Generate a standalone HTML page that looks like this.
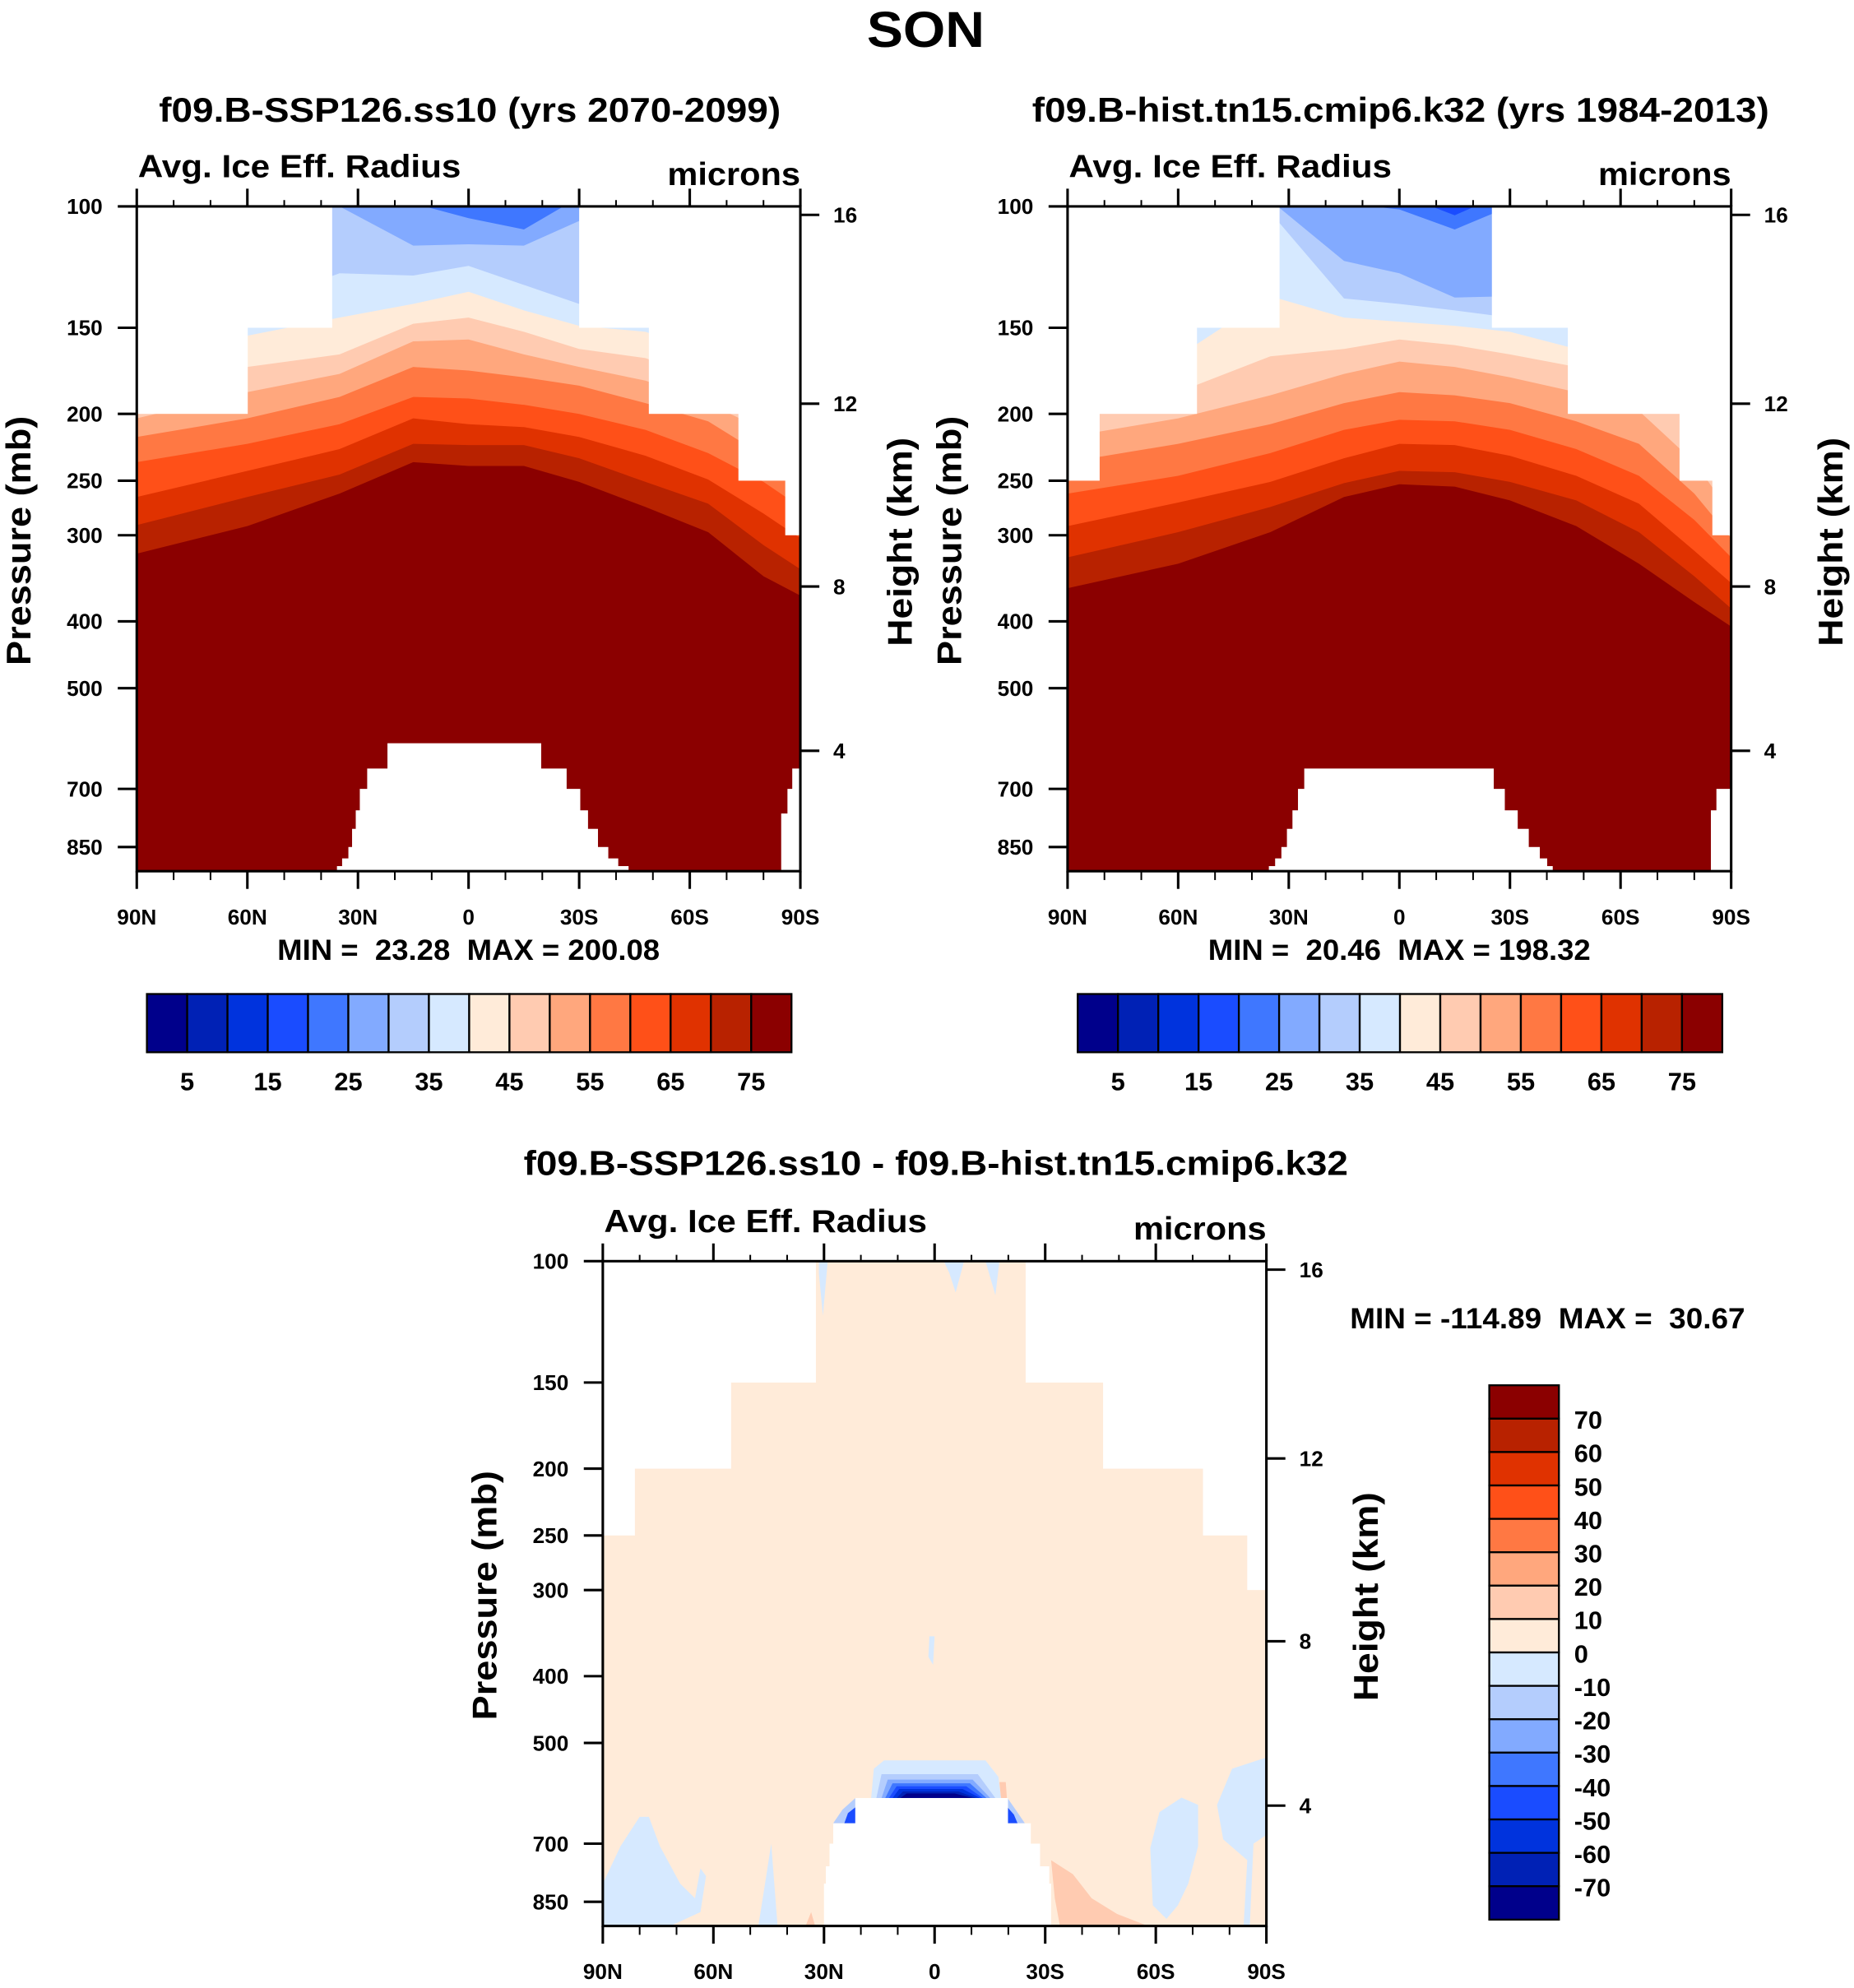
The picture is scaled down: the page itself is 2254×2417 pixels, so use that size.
<!DOCTYPE html>
<html><head><meta charset="utf-8"><style>
html,body{margin:0;padding:0;background:#fff;}
svg{display:block;}
text{font-family:"Liberation Sans",Arial,sans-serif;font-weight:bold;fill:#000;white-space:pre;}
</style></head><body>
<svg id="fig" xmlns="http://www.w3.org/2000/svg" width="2254" height="2417" viewBox="0 0 1464 1570" preserveAspectRatio="none">
<rect x="0" y="0" width="1464" height="1570" fill="#fff"/>
</svg>
<script>
const NS='http://www.w3.org/2000/svg';
const palette=['#00008b','#0021b5','#0033dd','#1a4cff','#3f77ff','#82aaff','#b4cdfd','#d6e9ff','#ffebd9','#ffcbb1','#ffa77d','#ff7843','#ff5018','#e03200','#b82200','#8b0000'];
const pressureTicks=[100,150,200,250,300,400,500,700,850];
const heightTicks=[16,12,8,4];
const latTicks=[90,60,30,0,-30,-60,-90];
const latTickLabels=['90N','60N','30N','0','30S','60S','90S'];
const latNodes=[90,60,35,15,0,-15,-30,-48,-65,-80,-90];
const absLevels=[15,20,25,30,35,40,45,50,55,60,65,70,75];
const absCbLevels=[5,10,15,20,25,30,35,40,45,50,55,60,65,70,75];
const absCbLabels=['5','','15','','25','','35','','45','','55','','65','','75'];
const diffCbLabels=['70','60','50','40','30','20','10','0','-10','-20','-30','-40','-50','-60','-70'];
// panel 1 contour-crossing pressures (mb) per level at latNodes
const p1c15=[95,95,95,95,95,95,95,95,95,95,95];
const p1c20=[96,96,96,96,96,96,96,96,96,96,96];
const p1c25=[97,97,97,99,104,108,97,98,98,98,98];
const p1c30=[105,105,100,114,113.5,114,105,110,110,110,110];
const p1c35=[130,140,125,126,122,130,138.5,145,151,164,179];
const p1c40=[160,154,145,138.5,133,141.5,149,152,164,179,194];
const p1c45=[180,171,164,148,145,152,161,166,179,194,216];
const p1c50=[203,186,175,157,156,164,171,179,193,211,235];
const p1c55=[216,203,189,171,173,177,182,193,205,230,251];
const p1c60=[235,221,207,189,190,194,200,211,228,251,273];
const p1c65=[264,242,225,203,207,209,216,230,249,279,303];
const p1c70=[290,264,245,221,222,222,232,251,270,310,336];
const p1c75=[319,291,261,235,238,238,251,273,297,344,367];
// panel 2
const p2c15=[90,90,90,90,90,90,90,90,90,90,90];
const p2c20=[95,95,95,95,96,103,95,95,95,95,95];
const p2c25=[97,97,97,99,101,108,100,100,100,100,100];
const p2c30=[100,100,98,120,125,135.6,135,140,140,140,140];
const p2c35=[130,140,102,136,138.5,141.5,145,150,155,160,180];
const p2c40=[180,165,135,145,147,149,152,161,171,186,221];
const p2c45=[200,186,165,161,156,159,164,171,182,207,251];
const p2c50=[216,203,188,175,168,171,177,186,198,235,279];
const p2c55=[235,221,207,193,186,188,193,205,221,261,303];
const p2c60=[261,246,228,211,204,205,211,225,246,285,323];
const p2c65=[291,269,251,232,221,222,230,246,270,316,352];
const p2c70=[323,297,273,252,242,243,251,267,297,344,383];
const p2c75=[358,330,297,264,253,255,267,291,330,375,407];
const panel1Levels=[p1c15,p1c20,p1c25,p1c30,p1c35,p1c40,p1c45,p1c50,p1c55,p1c60,p1c65,p1c70,p1c75];
const panel2Levels=[p2c15,p2c20,p2c25,p2c30,p2c35,p2c40,p2c45,p2c50,p2c55,p2c60,p2c65,p2c70,p2c75];
// data-top steps [latStart, pressureTop]
const top1=[[90,200],[60,150],[37.1,100],[-30,150],[-48.9,200],[-73.2,250],[-85.9,300]];
const top2=[[90,250],[81.4,200],[55,150],[32.6,100],[-25.1,150],[-45.7,200],[-76,250],[-84.9,300]];
const top3=[[90,250],[81.4,200],[55.3,150],[32.3,100],[-24.7,150],[-45.7,200],[-72.8,250],[-84.8,300]];
// ground steps [latN, latS, pressureTop]
const ground1=[[35.7,34.3,906],[34.3,32.6,883],[32.6,31.6,850],[31.6,30.6,800],[30.6,29.5,752],[29.5,27.5,700],[27.5,22,654],[22,-19.6,601],[-19.6,-26.5,654],[-26.5,-30.2,700],[-30.2,-32.3,752],[-32.3,-35,800],[-35,-37.8,850],[-37.8,-40.5,883],[-40.5,-43.3,906],[-84.8,-86.5,760],[-86.5,-87.8,700],[-87.8,-90,654]];
const ground2=[[35.4,33.7,906],[33.7,32,883],[32,30.5,850],[30.5,29,800],[29,27.5,752],[27.5,25.8,700],[25.8,-25.5,654],[-25.5,-28.5,700],[-28.5,-32,752],[-32,-35,800],[-35,-38,850],[-38,-40,883],[-40,-41.5,906],[-84.5,-86,752],[-86,-90,700]];
const ground3=[[30,29.5,800],[29.5,28.5,755],[28.5,27.5,700],[27.5,21.5,654],[21.5,-19.8,601],[-19.8,-26,654],[-26,-28.5,700],[-28.5,-31,755],[-31,-31.5,800]];
// difference field patches [colorIndex, [[lat,p],...]]
const diffPatches=[
 [7,[[90,922],[90,800],[85.2,706],[80,640],[77.5,640],[74.5,706],[69,800],[65,840],[63.5,760],[62,780],[63.5,880],[71.4,920],[81.7,922]]],
 [7,[[47.8,922],[46,800],[44.3,700],[42.6,922]]],
 [7,[[-59.2,860],[-58.5,710],[-61,630],[-67,600],[-71.5,615],[-71.5,706],[-68.8,800],[-66,860],[-62.9,900]]],
 [7,[[-76.6,615],[-80.7,545],[-87.6,530],[-90,525],[-90,680],[-86.5,700],[-85.5,922],[-83.8,922],[-84.8,740],[-78.3,690]]],
 [7,[[31.4,100],[29,100],[30.3,120],[31.4,104]]],
 [7,[[-2.5,100],[-8,100],[-5.7,111],[-4,104]]],
 [7,[[-13.8,100],[-17.6,100],[-16.5,112]]],
 [7,[[1.4,350],[0,350],[0.4,385],[1.7,375]]],
 [9,[[-31.6,740],[-37.5,775],[-42.6,840],[-49.5,885],[-58,922],[-34,922],[-32.6,840]]],
 [9,[[-17.6,570],[-19.3,570],[-19.6,601],[-18,601]]],
 [9,[[35,922],[33.5,880],[32.4,922]]],
 [7,[[17.2,601],[16.5,545],[13.7,530],[-13.8,530],[-17.3,560],[-18,601]]],
 [6,[[15.8,601],[14.4,555],[-11.7,555],[-16.5,601]]],
 [5,[[14.4,601],[12.7,565],[-10.3,565],[-15.1,601]]],
 [4,[[13.4,601],[11.4,572],[-9.6,572],[-14.1,601]]],
 [3,[[12.4,601],[10.3,578],[-8.6,578],[-13.1,601]]],
 [2,[[11.4,601],[9.6,583],[-7.6,583],[-12.4,601]]],
 [1,[[10.3,601],[8.6,588],[-6.5,588],[-11.4,601]]],
 [0,[[9.3,601],[7.6,592],[-5.5,592],[-10.3,601]]],
 [6,[[27.5,654],[25,625],[21.5,601],[21.5,654]]],
 [3,[[24.5,654],[23.5,632],[21.5,620],[21.5,654]]],
 [6,[[-19.8,601],[-22,625],[-24.5,654],[-19.8,654]]],
 [3,[[-19.8,620],[-21.5,635],[-22.5,654],[-19.8,654]]]
];
const K=236.4;
const svg=document.getElementById('fig');
function el(tag,attrs,parent){const e=document.createElementNS(NS,tag);for(const k in attrs)e.setAttribute(k,attrs[k]);(parent||svg).appendChild(e);return e;}
function txt(s,x,y,size,anchor,parent,len){const t=el('text',{x:x,y:y,'font-size':size,'text-anchor':anchor||'start'},parent);if(len){t.setAttribute('textLength',len);t.setAttribute('lengthAdjust','spacingAndGlyphs');}t.textContent=s;return t;}
function zToP(z){return z<=11?1013.25*Math.pow(1-0.0065*z*1000/288.15,5.2559):226.32*Math.exp(-(z-11)/6.3416);}

function makeAxes(x0,y0){
 const W=524,H=525;
 return {x0,y0,W,H,x:lat=>x0+(90-lat)/180*W,y:p=>y0+K*Math.log(p/100)};
}
function drawPanel(ax,name,levels,levelVals,topSteps,groundSteps,patches,bg){
 const g=el('g',{});
 
 
 const cid='clip-'+name;
 const cp=el('clipPath',{id:cid},g);
 el('rect',{x:ax.x0,y:ax.y0,width:ax.W,height:ax.H},cp);
 const f=el('g',{'clip-path':'url(#'+cid+')'},g);
 const base=el('rect',{x:ax.x0,y:ax.y0,width:ax.W,height:ax.H,fill:bg},f);
 
 
 if(levels){
  levels.forEach((arr,i)=>{
   const band=levelVals[i]/5;
   let pts=latNodes.map((lat,j)=>ax.x(lat).toFixed(1)+','+ax.y(arr[j]).toFixed(1));
   pts.push(ax.x(-90)+','+(ax.y0+ax.H+5));pts.push(ax.x(90)+','+(ax.y0+ax.H+5));
   const poly=el('polygon',{points:pts.join(' '),fill:palette[Math.min(band,15)]},f);
   
   
  });
 }
 if(patches){
  patches.forEach((pt,i)=>{
   const poly=el('polygon',{points:pt[1].map(q=>ax.x(q[0]).toFixed(1)+','+ax.y(q[1]).toFixed(1)).join(' '),fill:palette[pt[0]]},f);
   
   
  });
 }
 topSteps.forEach((s,i)=>{
  const latN=s[0],latS=i+1<topSteps.length?topSteps[i+1][0]:-90;
  const r=el('rect',{x:ax.x(latN),y:ax.y0-2,width:ax.x(latS)-ax.x(latN)+0.3,height:ax.y(s[1])-ax.y0+2,fill:'#fff'},f);
  
  
 });
 groundSteps.forEach(s=>{
  const r=el('rect',{x:ax.x(s[0]),y:ax.y(s[2]),width:ax.x(s[1])-ax.x(s[0])+0.3,height:ax.y0+ax.H-ax.y(s[2])+2,fill:'#fff'},f);
  
  
 });
 const fr=el('rect',{x:ax.x0,y:ax.y0,width:ax.W,height:ax.H,fill:'none',stroke:'#000','stroke-width':2},g);
 
 
 for(let lat=90;lat>=-90;lat-=10){
  const major=lat%30===0;const x=ax.x(lat);
  el('line',{x1:x,x2:x,y1:ax.y0,y2:ax.y0-(major?14:5),stroke:'#000','stroke-width':major?2:1.3},g);
  el('line',{x1:x,x2:x,y1:ax.y0+ax.H,y2:ax.y0+ax.H+(major?14:7),stroke:'#000','stroke-width':major?2:1.3},g);
 }
 latTicks.forEach((lat,i)=>{const t=txt(latTickLabels[i],ax.x(lat),ax.y0+ax.H+42,17,'middle',g);
  
  });
 pressureTicks.forEach(p=>{const y=ax.y(p);
  el('line',{x1:ax.x0-15,x2:ax.x0,y1:y,y2:y,stroke:'#000','stroke-width':2},g);
  const t=txt(String(p),ax.x0-27,y+6,17,'end',g);
  
  });
 heightTicks.forEach(z=>{const y=ax.y(zToP(z));
  el('line',{x1:ax.x0+ax.W,x2:ax.x0+ax.W+15,y1:y,y2:y,stroke:'#000','stroke-width':2},g);
  const t=txt(String(z),ax.x0+ax.W+26,y+6,17,'start',g);
  
  });
 const a=txt('Avg. Ice Eff. Radius',ax.x0+1,ax.y0-23,25,'start',g,255);
 
 
 const m=txt('microns',ax.x0+ax.W,ax.y0-17,25,'end',g,105);
 
 
 const yl=txt('Pressure (mb)',0,0,27,'middle',g,197);
 yl.setAttribute('transform','translate('+(ax.x0-84)+','+(ax.y0+264)+') rotate(-90)');
 
 
 const hl=txt('Height (km)',0,0,27,'middle',g,165);
 hl.setAttribute('transform','translate('+(ax.x0+ax.W+88)+','+(ax.y0+265)+') rotate(-90)');
 
 
 return g;
}
function hColorbar(x0,y0,name){
 const g=el('g',{});
 
 
 const w=509/16;
 for(let i=0;i<16;i++){const r=el('rect',{x:x0+i*w,y:y0,width:w,height:46,fill:palette[i],stroke:'#000','stroke-width':1.5},g);
  
  }
 absCbLevels.forEach((v,i)=>{if(absCbLabels[i]){const t=txt(absCbLabels[i],x0+(i+1)*w,y0+76,20,'middle',g);
  
  }});
}
const st=txt('SON',731,37,40,'middle',null,93);


const t1=txt('f09.B-SSP126.ss10 (yrs 2070-2099)',371,96,27,'middle',null,491);


const t2=txt('f09.B-hist.tn15.cmip6.k32 (yrs 1984-2013)',1106,96,27,'middle',null,582);


const t3=txt('f09.B-SSP126.ss10 - f09.B-hist.tn15.cmip6.k32',739,928,27,'middle',null,651);



const ax1=makeAxes(108,163),ax2=makeAxes(843,163),ax3=makeAxes(476,996);
drawPanel(ax1,'panel-ssp126',panel1Levels,absLevels,top1,ground1,null,palette[2]);
drawPanel(ax2,'panel-hist',panel2Levels,absLevels,top2,ground2,null,palette[2]);
drawPanel(ax3,'panel-difference',null,null,top3,ground3,diffPatches,palette[8]);

const m1=txt('MIN =  23.28  MAX = 200.08',370,758,23,'middle',null,302);


const m2=txt('MIN =  20.46  MAX = 198.32',1105,758,23,'middle',null,302);


const m3=txt('MIN = -114.89  MAX =  30.67',1222,1049,23,'middle',null,312);



hColorbar(116,785,'panel1-colorbar');
hColorbar(851,785,'panel2-colorbar');
(function(){
 const g=el('g',{});
 
 
 const h=422/16;
 for(let i=0;i<16;i++){const r=el('rect',{x:1176,y:1094+i*h,width:55,height:h,fill:palette[15-i],stroke:'#000','stroke-width':1.5},g);
  
  }
 diffCbLabels.forEach((s,i)=>{const t=txt(s,1243,1094+(i+1)*h+8,20,'start',g);
  
  });
})();
</script>
</body></html>
